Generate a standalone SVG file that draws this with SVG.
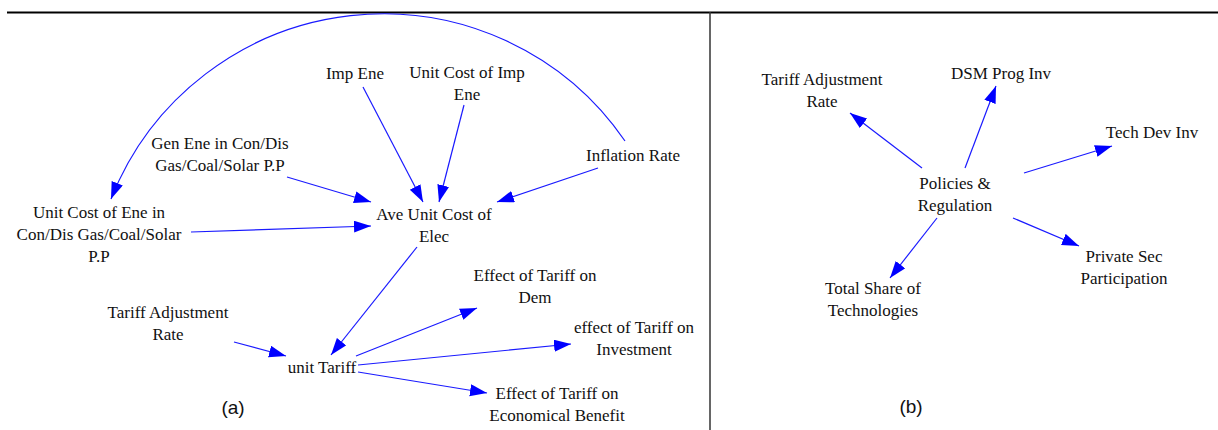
<svg xmlns="http://www.w3.org/2000/svg" width="1218" height="430" viewBox="0 0 1218 430">
<style>
  text.t { font-family: 'Liberation Serif', 'DejaVu Serif', serif; font-size: 17px; fill: #111; text-anchor: middle; }
  text.cap { font-family: 'Liberation Sans', Arial, sans-serif; font-size: 19px; fill: #111; text-anchor: middle; }
  .c { fill: none; stroke: #1a1aff; stroke-width: 1.2; marker-end: url(#ah); }
</style>
<defs>
  <marker id="ah" markerUnits="userSpaceOnUse" markerWidth="18" markerHeight="13" refX="17" refY="6" orient="auto">
    <path d="M0,0 L17,6 L0,12 z" fill="#0000ff"/>
  </marker>
</defs>
<rect width="1218" height="430" fill="#ffffff"/>
<g id="frame">
  <line x1="7" y1="12.5" x2="1218" y2="12.5" stroke="#000" stroke-width="2.2"/>
  <line x1="710" y1="12" x2="710" y2="430" stroke="#333" stroke-width="1.5"/>
</g>
<g id="connectors">
  <path class="c" d="M625,141 A293,293 0 0 0 111,199"/>
  <path class="c" d="M287,177 L371,202"/>
  <path class="c" d="M191,232 L371,226"/>
  <path class="c" d="M363,87 L423,202"/>
  <path class="c" d="M464,105 L439,202"/>
  <path class="c" d="M598,168 L497,202"/>
  <path class="c" d="M417,247 L331,355"/>
  <path class="c" d="M234,342 L286,356"/>
  <path class="c" d="M356,356 L477,308"/>
  <path class="c" d="M358,365 L571,344"/>
  <path class="c" d="M358,372 L487,393"/>
  <path class="c" d="M922,168 L850,113"/>
  <path class="c" d="M965,168 L996,86"/>
  <path class="c" d="M1024,173 L1112,146"/>
  <path class="c" d="M1013,218 L1079,246"/>
  <path class="c" d="M937,218 L890,278"/>
</g>
<g id="imp-ene" font-family="Liberation Serif, serif"><text class="t" x="355" y="79">Imp Ene</text></g>
<g id="unit-cost-imp-ene"><text class="t" x="467" y="78">Unit Cost of Imp<tspan x="467" dy="22">Ene</tspan></text></g>
<g id="gen-ene"><text class="t" x="220" y="149">Gen Ene in Con/Dis<tspan x="220" dy="22">Gas/Coal/Solar P.P</tspan></text></g>
<g id="unit-cost-ene"><text class="t" x="99" y="218">Unit Cost of Ene in<tspan x="99" dy="22">Con/Dis Gas/Coal/Solar</tspan><tspan x="99" dy="22">P.P</tspan></text></g>
<g id="ave-unit-cost"><text class="t" x="434" y="220">Ave Unit Cost of<tspan x="434" dy="22">Elec</tspan></text></g>
<g id="inflation-rate"><text class="t" x="633" y="161">Inflation Rate</text></g>
<g id="tariff-adj-a"><text class="t" x="168" y="318">Tariff Adjustment<tspan x="168" dy="22">Rate</tspan></text></g>
<g id="unit-tariff"><text class="t" x="322" y="373">unit Tariff</text></g>
<g id="effect-dem"><text class="t" x="535" y="281">Effect of Tariff on<tspan x="535" dy="22">Dem</tspan></text></g>
<g id="effect-inv"><text class="t" x="634" y="333">effect of Tariff on<tspan x="634" dy="22">Investment</tspan></text></g>
<g id="effect-econ"><text class="t" x="557" y="399">Effect of Tariff on<tspan x="557" dy="22">Economical Benefit</tspan></text></g>
<g id="label-a"><text class="cap" x="233" y="414">(a)</text></g>
<g id="tariff-adj-b"><text class="t" x="822" y="85">Tariff Adjustment<tspan x="822" dy="22">Rate</tspan></text></g>
<g id="dsm"><text class="t" x="1001" y="79">DSM Prog Inv</text></g>
<g id="tech-dev"><text class="t" x="1152" y="138">Tech Dev Inv</text></g>
<g id="policies"><text class="t" x="955" y="189">Policies &amp;<tspan x="955" dy="22">Regulation</tspan></text></g>
<g id="private-sec"><text class="t" x="1124" y="262">Private Sec<tspan x="1124" dy="22">Participation</tspan></text></g>
<g id="total-share"><text class="t" x="873" y="294">Total Share of<tspan x="873" dy="22">Technologies</tspan></text></g>
<g id="label-b"><text class="cap" x="911" y="413">(b)</text></g>
</svg>
